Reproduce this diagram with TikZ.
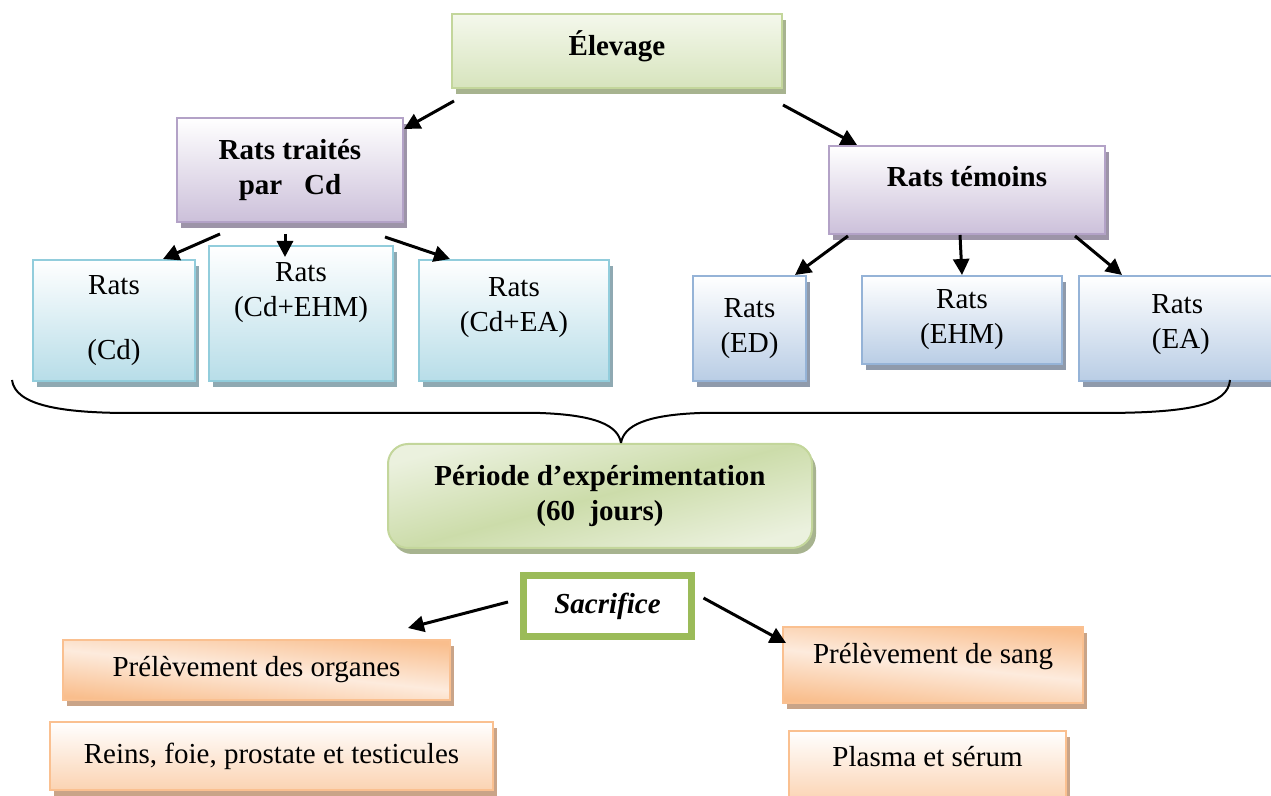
\documentclass[tikz,border=0pt]{standalone}
\usepackage{fontspec}
\setmainfont{Liberation Serif}
\usetikzlibrary{arrows.meta,shadows}

\definecolor{grnline}{HTML}{C3D69B}
\definecolor{grntop}{HTML}{F4F8EC}
\definecolor{grnbot}{HTML}{D7E4BD}
\definecolor{grnshadow}{HTML}{A7B38F}
\definecolor{grnlight}{HTML}{EBF1DE}
\definecolor{sacline}{HTML}{9BBB59}
\definecolor{purline}{HTML}{B3A2C7}
\definecolor{purbot}{HTML}{CCC0DA}
\definecolor{purshadow}{HTML}{9D94A8}
\definecolor{cyanline}{HTML}{92CDDC}
\definecolor{cyanbot}{HTML}{B7DDE8}
\definecolor{cyanshadow}{HTML}{8FA9B2}
\definecolor{blueline}{HTML}{95B3D7}
\definecolor{bluebot}{HTML}{B9CDE5}
\definecolor{blueshadow}{HTML}{8F9AAB}
\definecolor{orline}{HTML}{FAC090}
\definecolor{ordark}{HTML}{F9BE8D}
\definecolor{orlight}{HTML}{FDEBDD}
\definecolor{orbot}{HTML}{FBD3B2}
\definecolor{orshadow}{HTML}{C9A488}

\newcommand{\boxfont}{\fontsize{14.5}{17.5}\selectfont}

\tikzset{
  box/.style={draw, line width=1pt, align=center, inner sep=2pt},
  bold/.style={font=\boxfont\bfseries},
  greenbox/.style={box, draw=grnline, top color=grntop, bottom color=grnbot,
    drop shadow={shadow xshift=2pt, shadow yshift=-3pt, fill=grnshadow, opacity=1}},
  purplebox/.style={box, draw=purline, top color=white, bottom color=purbot,
    drop shadow={shadow xshift=2pt, shadow yshift=-3pt, fill=purshadow, opacity=1}},
  cyanbox/.style={box, draw=cyanline, top color=white, bottom color=cyanbot,
    drop shadow={shadow xshift=2pt, shadow yshift=-3pt, fill=cyanshadow, opacity=1}},
  bluebox/.style={box, draw=blueline, top color=white, bottom color=bluebot,
    drop shadow={shadow xshift=2pt, shadow yshift=-3pt, fill=blueshadow, opacity=1}},
  periodbox/.style={box, draw=grnline, rounded corners=10pt,
    top color=grnlight, bottom color=grnlight, middle color=grnline!85, shading angle=15,
    drop shadow={shadow xshift=2pt, shadow yshift=-3pt, fill=grnshadow, opacity=1}},
  orangebox/.style={box, draw=orline, top color=ordark, bottom color=ordark, middle color=orlight,
    shading angle=-6,
    drop shadow={shadow xshift=2pt, shadow yshift=-3pt, fill=orshadow, opacity=1}},
  peachbox/.style={box, draw=orline, top color=white, bottom color=orbot,
    drop shadow={shadow xshift=2pt, shadow yshift=-3pt, fill=orshadow, opacity=1}},
  arr/.style={-{Triangle[length=8pt,width=8pt]}, line width=1.5pt},
  brace/.style={line width=1pt}
}

\begin{document}
\begin{tikzpicture}[x=0.5pt,y=-0.5pt,font=\boxfont]
\useasboundingbox (0,0) rectangle (1271,796);
% top
\node[greenbox, bold, minimum width=165pt, minimum height=37pt, text depth=8pt] (elevage) at (617,51) {Élevage};
% treated rats
\node[purplebox, bold, minimum width=113pt, minimum height=52pt] (traites) at (290,170) {Rats traités\\par~~~Cd};
\node[cyanbox, minimum width=81pt, minimum height=60.5pt] (cd) at (114,320.5) {Rats\\[15pt](Cd)};
\node[cyanbox, minimum width=92pt, minimum height=67.5pt, text depth=24pt] (cdehm) at (301,313.5) {Rats\\(Cd+EHM)};
\node[cyanbox, minimum width=95pt, minimum height=60.5pt, text depth=16pt] (cdea) at (514,320.5) {Rats\\(Cd+EA)};
% control rats
\node[purplebox, bold, minimum width=138pt, minimum height=44pt, text depth=14pt] (temoins) at (967,190) {Rats témoins};
\node[bluebox, minimum width=56.5pt, minimum height=52.5pt] (ed) at (749.5,328.5) {Rats\\(ED)};
\node[bluebox, minimum width=100pt, minimum height=44pt] (ehm) at (962,320) {Rats\\(EHM)};
\node[bluebox, minimum width=105.5pt, minimum height=52.5pt, text depth=7pt] (ea) at (1184.5,328.5) {Rats~~~\\(EA)~~};
% period
\node[periodbox, bold, minimum width=212pt, minimum height=52pt] (periode) at (600,496) {Période d’expérimentation\\(60~~jours)};
\node[draw=sacline, line width=3.5pt, fill=white, minimum width=84pt, minimum height=30.5pt, font=\boxfont\bfseries\itshape] (sacrifice) at (607.5,606) {Sacrifice};
% samples
\node[orangebox, minimum width=193.5pt, minimum height=30pt] (organes) at (256.5,670) {Prélèvement des organes};
\node[peachbox, minimum width=221.5pt, minimum height=34pt] (reins) at (271.5,756) {Reins, foie, prostate et testicules};
\node[orangebox, minimum width=150pt, minimum height=38pt, text depth=12pt] (sang) at (933,665) {Prélèvement de sang};
\node[peachbox, minimum width=138.5pt, minimum height=35.5pt, text depth=10pt] (plasma) at (927.5,766.5) {Plasma et sérum};

\draw[arr] ([xshift=1.5pt,yshift=-6pt]elevage.south west) -- ([yshift=-6pt]traites.north east);
\draw[arr] ([yshift=-8pt]elevage.south east) -- ([xshift=14.5pt]temoins.north west);
\draw[arr] ([xshift=-35pt,yshift=-5.5pt]traites.south) -- ([xshift=24.5pt]cd.north);
\draw[arr] ([xshift=-2.5pt,yshift=-5.5pt]traites.south) -- ([xshift=-8pt,yshift=-6pt]cdehm.north);
\draw[arr] ([xshift=47.5pt,yshift=-7pt]traites.south) -- ([xshift=-32pt]cdea.north);
\draw[arr] ([xshift=-59.5pt,yshift=-0.5pt]temoins.south) -- ([xshift=22.75pt]ed.north);
\draw[arr] ([xshift=-3.5pt]temoins.south) -- (ehm.north);
\draw[arr] ([xshift=54pt,yshift=-0.5pt]temoins.south) -- ([xshift=-31.25pt]ea.north);
\draw[arr] ([xshift=-6pt,yshift=2pt]sacrifice.west) -- ([xshift=75.75pt,yshift=5.5pt]organes.north);
\draw[arr] ([xshift=4.25pt,yshift=4pt]sacrifice.east) -- ([xshift=2pt,yshift=-8.5pt]sang.north west);

% brace
\draw[brace] (12,380) .. controls (15,405) and (60,413) .. (130,413) -- (540,413)
  .. controls (595,415) and (618,425) .. (621,443);
\draw[brace] (621,443) .. controls (624,425) and (647,415) .. (700,413) -- (1100,413)
  .. controls (1190,413) and (1228,405) .. (1230,380);
\end{tikzpicture}
\end{document}
